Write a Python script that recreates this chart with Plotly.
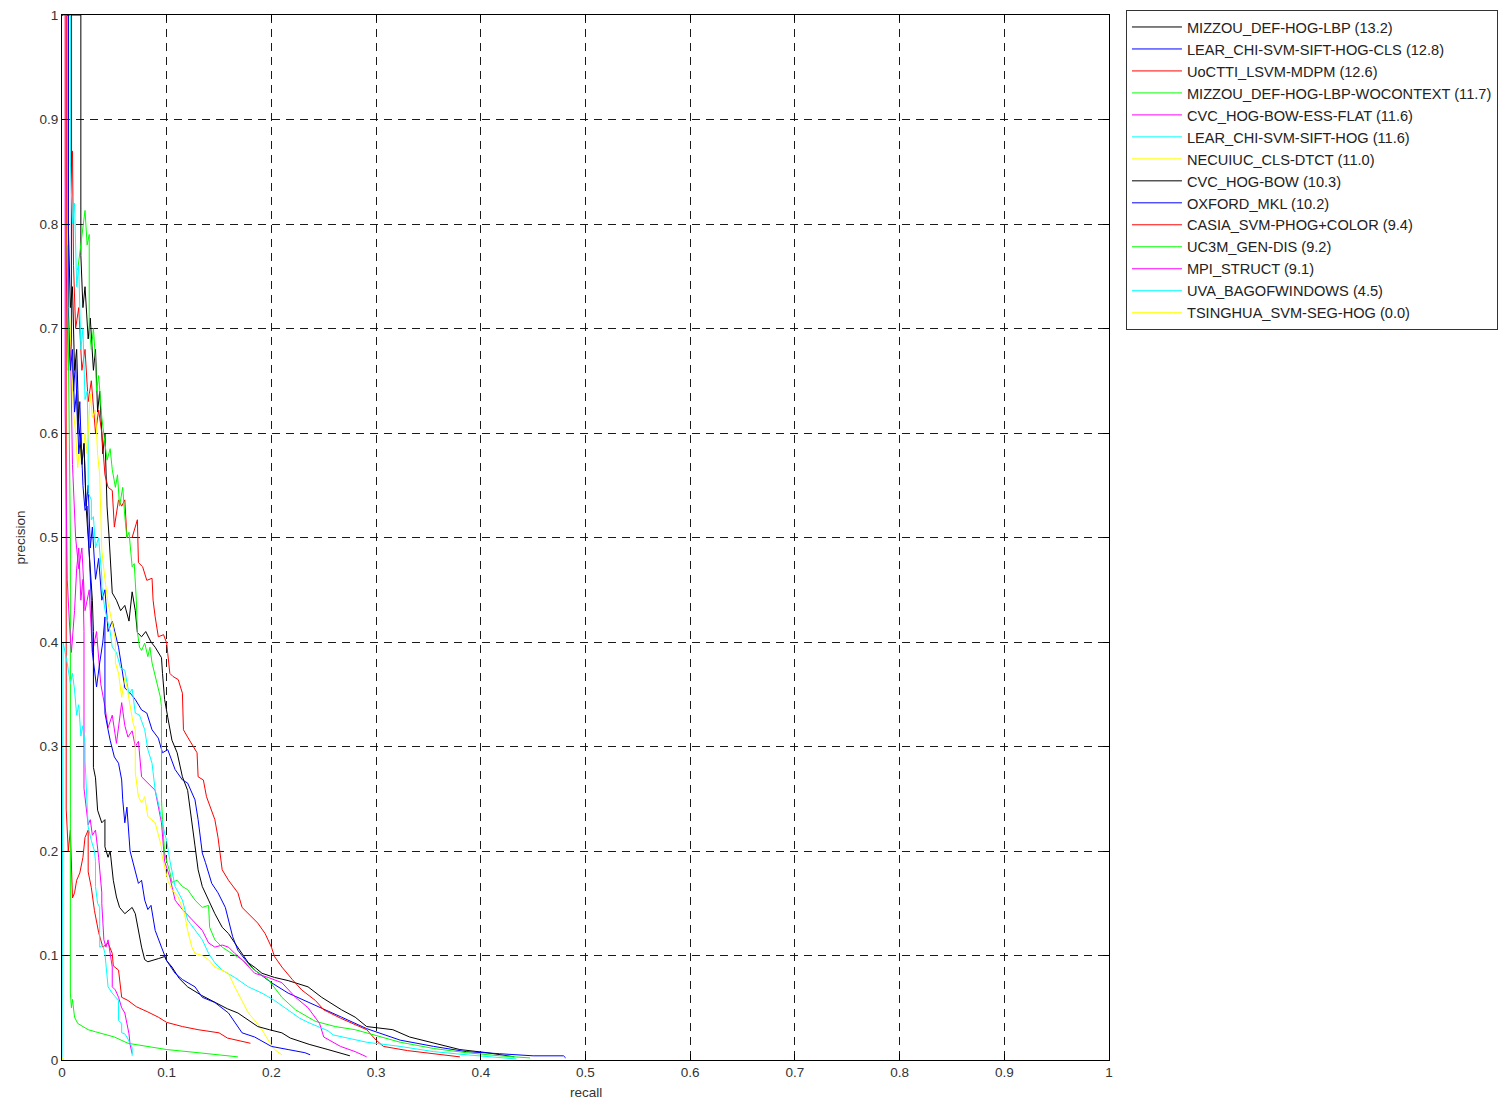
import plotly.graph_objects as go

# ---------------- data ----------------
methods = [
    "MIZZOU_DEF-HOG-LBP", "LEAR_CHI-SVM-SIFT-HOG-CLS", "UoCTTI_LSVM-MDPM",
    "MIZZOU_DEF-HOG-LBP-WOCONTEXT", "CVC_HOG-BOW-ESS-FLAT", "LEAR_CHI-SVM-SIFT-HOG",
    "NECUIUC_CLS-DTCT", "CVC_HOG-BOW", "OXFORD_MKL", "CASIA_SVM-PHOG+COLOR",
    "UC3M_GEN-DIS", "MPI_STRUCT", "UVA_BAGOFWINDOWS", "TSINGHUA_SVM-SEG-HOG",
]
ap_scores = [13.2, 12.8, 12.6, 11.7, 11.6, 11.6, 11.0, 10.3, 10.2, 9.4, 9.2, 9.1, 4.5, 0.0]
line_colors = ["#000000", "#0000ff", "#ff0000", "#00ff00", "#ff00ff", "#00ffff", "#ffff00",
               "#000000", "#0000ff", "#ff0000", "#00ff00", "#ff00ff", "#00ffff", "#ffff00"]

tick_values = [0, 0.1, 0.2, 0.3, 0.4, 0.5, 0.6, 0.7, 0.8, 0.9, 1]
tick_labels = ["0", "0.1", "0.2", "0.3", "0.4", "0.5", "0.6", "0.7", "0.8", "0.9", "1"]

# (recall, precision) points
pr_mizzou = [
    (0, 1), (0.018, 1), (0.018, 0.77), (0.020, 0.72), (0.022, 0.74), (0.025, 0.69), (0.027, 0.71),
    (0.030, 0.66), (0.032, 0.68), (0.034, 0.62), (0.036, 0.64), (0.039, 0.58), (0.041, 0.60),
    (0.043, 0.53), (0.045, 0.50), (0.048, 0.447), (0.052, 0.44), (0.056, 0.43), (0.060, 0.435),
    (0.064, 0.42), (0.067, 0.448), (0.070, 0.43), (0.072, 0.409), (0.076, 0.405), (0.080, 0.41),
    (0.085, 0.40), (0.089, 0.395), (0.092, 0.39), (0.095, 0.385), (0.096, 0.37), (0.098, 0.345),
    (0.101, 0.328), (0.105, 0.306), (0.110, 0.294), (0.115, 0.271), (0.120, 0.258), (0.124, 0.23),
    (0.127, 0.205), (0.130, 0.182), (0.134, 0.166), (0.140, 0.153), (0.146, 0.14), (0.153, 0.127),
    (0.159, 0.121), (0.165, 0.112), (0.172, 0.102), (0.178, 0.093), (0.185, 0.088), (0.191, 0.083),
    (0.203, 0.079), (0.216, 0.076), (0.235, 0.07), (0.248, 0.06), (0.267, 0.048), (0.280, 0.041),
    (0.291, 0.032), (0.316, 0.029), (0.332, 0.022), (0.355, 0.016), (0.380, 0.01), (0.406, 0.007),
    (0.432, 0.003),
]
pr_lear_cls = [
    (0, 1), (0.009, 1), (0.009, 0.68), (0.011, 0.64), (0.013, 0.67), (0.015, 0.60), (0.017, 0.63),
    (0.019, 0.57), (0.021, 0.59), (0.023, 0.53), (0.025, 0.55), (0.027, 0.49), (0.029, 0.51),
    (0.032, 0.46), (0.035, 0.48), (0.038, 0.44), (0.041, 0.45), (0.044, 0.41), (0.048, 0.42),
    (0.054, 0.395), (0.057, 0.376), (0.060, 0.356), (0.066, 0.35), (0.070, 0.345), (0.076, 0.335),
    (0.081, 0.332), (0.086, 0.316), (0.092, 0.308), (0.096, 0.294), (0.101, 0.297), (0.108, 0.278),
    (0.115, 0.268), (0.120, 0.265), (0.127, 0.249), (0.130, 0.23), (0.134, 0.198), (0.137, 0.189),
    (0.143, 0.169), (0.149, 0.16), (0.156, 0.146), (0.159, 0.134), (0.163, 0.118), (0.168, 0.105),
    (0.175, 0.096), (0.184, 0.086), (0.200, 0.074), (0.216, 0.064), (0.232, 0.057), (0.248, 0.05),
    (0.267, 0.041), (0.291, 0.03), (0.323, 0.019), (0.355, 0.013), (0.386, 0.008), (0.418, 0.006),
    (0.450, 0.004), (0.479, 0.004), (0.481, 0.002),
]
pr_uoctti = [
    (0.010, 0.87), (0.011, 0.76), (0.013, 0.70), (0.016, 0.72), (0.019, 0.66), (0.022, 0.68),
    (0.025, 0.63), (0.028, 0.65), (0.032, 0.60), (0.035, 0.622), (0.038, 0.60), (0.041, 0.56),
    (0.044, 0.548), (0.048, 0.545), (0.050, 0.51), (0.054, 0.536), (0.057, 0.53), (0.060, 0.536),
    (0.062, 0.50), (0.067, 0.50), (0.072, 0.517), (0.073, 0.476), (0.077, 0.472), (0.079, 0.466),
    (0.081, 0.459), (0.086, 0.461), (0.087, 0.44), (0.089, 0.424), (0.092, 0.405), (0.097, 0.407),
    (0.100, 0.399), (0.101, 0.389), (0.103, 0.37), (0.106, 0.367), (0.111, 0.364), (0.115, 0.351),
    (0.116, 0.316), (0.120, 0.309), (0.125, 0.30), (0.129, 0.294), (0.130, 0.271), (0.135, 0.268),
    (0.138, 0.252), (0.146, 0.23), (0.149, 0.213), (0.153, 0.182), (0.159, 0.172), (0.168, 0.16),
    (0.172, 0.146), (0.178, 0.14), (0.187, 0.131), (0.194, 0.121), (0.200, 0.108), (0.203, 0.099),
    (0.210, 0.089), (0.220, 0.077), (0.229, 0.067), (0.242, 0.057), (0.250, 0.048), (0.266, 0.04),
    (0.291, 0.029), (0.300, 0.019), (0.307, 0.013), (0.330, 0.009), (0.355, 0.006), (0.380, 0.003),
]
pr_mizzou_wocontext = [
    (0.015, 0.756), (0.018, 0.78), (0.022, 0.813), (0.024, 0.78), (0.026, 0.79), (0.026, 0.70),
    (0.028, 0.68), (0.030, 0.70), (0.032, 0.67), (0.033, 0.64), (0.035, 0.655), (0.038, 0.615),
    (0.041, 0.593), (0.043, 0.574), (0.046, 0.585), (0.048, 0.565), (0.051, 0.548), (0.053, 0.56),
    (0.055, 0.53), (0.058, 0.548), (0.060, 0.52), (0.062, 0.50), (0.064, 0.505), (0.067, 0.472),
    (0.069, 0.475), (0.071, 0.44), (0.072, 0.41), (0.074, 0.395), (0.076, 0.392), (0.079, 0.399),
    (0.082, 0.386), (0.084, 0.395), (0.086, 0.38), (0.089, 0.367), (0.092, 0.357), (0.094, 0.347),
    (0.095, 0.338), (0.095, 0.249), (0.096, 0.23), (0.098, 0.198), (0.100, 0.19), (0.103, 0.18),
    (0.105, 0.17), (0.110, 0.172), (0.115, 0.166), (0.120, 0.163), (0.127, 0.153), (0.134, 0.146),
    (0.140, 0.148), (0.141, 0.127), (0.146, 0.115), (0.153, 0.108), (0.162, 0.102), (0.172, 0.096),
    (0.184, 0.086), (0.197, 0.077), (0.210, 0.06), (0.223, 0.048), (0.242, 0.037), (0.261, 0.032),
    (0.280, 0.029), (0.291, 0.026), (0.323, 0.017), (0.355, 0.011), (0.386, 0.007), (0.418, 0.004),
    (0.447, 0.002),
]
pr_cvc_ess_flat = [
    (0.002, 1), (0.004, 1), (0.004, 0.76), (0.006, 0.66), (0.008, 0.69), (0.010, 0.57),
    (0.013, 0.50), (0.016, 0.47), (0.019, 0.49), (0.022, 0.43), (0.026, 0.45), (0.029, 0.39),
    (0.033, 0.41), (0.037, 0.36), (0.041, 0.338), (0.044, 0.318), (0.048, 0.33), (0.052, 0.303),
    (0.057, 0.342), (0.060, 0.32), (0.063, 0.309), (0.067, 0.315), (0.070, 0.30), (0.073, 0.305),
    (0.076, 0.271), (0.082, 0.265), (0.089, 0.258), (0.095, 0.227), (0.098, 0.19), (0.103, 0.175),
    (0.108, 0.153), (0.115, 0.144), (0.127, 0.131), (0.134, 0.124), (0.140, 0.112), (0.146, 0.108),
    (0.153, 0.11), (0.159, 0.108), (0.165, 0.102), (0.172, 0.096), (0.184, 0.083), (0.197, 0.079),
    (0.210, 0.074), (0.223, 0.06), (0.235, 0.05), (0.246, 0.035), (0.250, 0.022), (0.266, 0.013),
    (0.280, 0.008), (0.291, 0.003),
]
pr_lear_sift_hog = [
    (0.001, 1), (0.008, 1), (0.008, 0.86), (0.010, 0.80), (0.012, 0.82), (0.014, 0.74),
    (0.016, 0.76), (0.018, 0.68), (0.020, 0.70), (0.022, 0.632), (0.024, 0.64), (0.025, 0.60),
    (0.025, 0.543), (0.028, 0.536), (0.028, 0.517), (0.030, 0.52), (0.032, 0.49), (0.035, 0.50),
    (0.038, 0.462), (0.038, 0.453), (0.041, 0.431), (0.044, 0.42), (0.046, 0.41), (0.048, 0.395),
    (0.052, 0.39), (0.056, 0.375), (0.060, 0.373), (0.064, 0.35), (0.067, 0.355), (0.070, 0.332),
    (0.074, 0.33), (0.079, 0.316), (0.082, 0.297), (0.086, 0.284), (0.089, 0.258), (0.092, 0.246),
    (0.095, 0.23), (0.098, 0.217), (0.100, 0.21), (0.103, 0.191), (0.108, 0.166), (0.115, 0.153),
    (0.120, 0.134), (0.127, 0.124), (0.134, 0.115), (0.140, 0.102), (0.146, 0.093), (0.153, 0.086),
    (0.165, 0.079), (0.178, 0.07), (0.191, 0.064), (0.203, 0.057), (0.216, 0.048), (0.227, 0.04),
    (0.235, 0.036), (0.254, 0.028), (0.259, 0.024), (0.277, 0.02), (0.291, 0.017), (0.323, 0.013),
    (0.355, 0.008), (0.386, 0.005), (0.425, 0.002), (0.434, 0.001),
]
pr_necuiuc = [
    (0.001, 1), (0.003, 1), (0.003, 0.85), (0.005, 0.75), (0.007, 0.72), (0.009, 0.66),
    (0.011, 0.62), (0.013, 0.60), (0.015, 0.567), (0.017, 0.59), (0.019, 0.567), (0.022, 0.60),
    (0.024, 0.58), (0.027, 0.638), (0.029, 0.615), (0.032, 0.622), (0.034, 0.58), (0.036, 0.56),
    (0.038, 0.488), (0.041, 0.46), (0.044, 0.437), (0.048, 0.418), (0.051, 0.402), (0.051, 0.38),
    (0.054, 0.37), (0.057, 0.347), (0.060, 0.366), (0.062, 0.357), (0.065, 0.338), (0.068, 0.322),
    (0.070, 0.316), (0.070, 0.275), (0.073, 0.252), (0.076, 0.246), (0.079, 0.252), (0.082, 0.233),
    (0.089, 0.227), (0.095, 0.204), (0.095, 0.198), (0.101, 0.172), (0.105, 0.163), (0.111, 0.156),
    (0.117, 0.14), (0.120, 0.124), (0.124, 0.108), (0.127, 0.102), (0.134, 0.10), (0.140, 0.096),
    (0.146, 0.089), (0.159, 0.083), (0.165, 0.07), (0.172, 0.057), (0.178, 0.045), (0.184, 0.038),
    (0.191, 0.029), (0.197, 0.019), (0.203, 0.01), (0.210, 0.005),
]
pr_cvc_hog_bow = [
    (0.005, 1), (0.006, 1), (0.006, 0.80), (0.008, 0.72), (0.010, 0.74), (0.012, 0.66),
    (0.014, 0.68), (0.016, 0.61), (0.019, 0.57), (0.021, 0.59), (0.023, 0.53), (0.025, 0.50),
    (0.027, 0.46), (0.029, 0.44), (0.030, 0.41), (0.030, 0.28), (0.032, 0.27), (0.034, 0.239),
    (0.038, 0.227), (0.041, 0.23), (0.041, 0.204), (0.044, 0.194), (0.046, 0.20), (0.049, 0.172),
    (0.052, 0.156), (0.055, 0.146), (0.060, 0.14), (0.067, 0.146), (0.070, 0.14), (0.076, 0.108),
    (0.079, 0.096), (0.082, 0.094), (0.092, 0.097), (0.098, 0.099), (0.100, 0.095), (0.105, 0.089),
    (0.112, 0.078), (0.120, 0.07), (0.133, 0.062), (0.146, 0.055), (0.158, 0.049), (0.168, 0.045),
    (0.187, 0.032), (0.198, 0.029), (0.210, 0.026), (0.218, 0.021), (0.236, 0.015), (0.254, 0.01),
    (0.265, 0.007), (0.275, 0.004),
]
pr_oxford = [
    (0.006, 1), (0.006, 0.72), (0.008, 0.66), (0.010, 0.68), (0.012, 0.62), (0.014, 0.64),
    (0.016, 0.58), (0.018, 0.60), (0.020, 0.55), (0.022, 0.526), (0.024, 0.53), (0.026, 0.48),
    (0.028, 0.44), (0.029, 0.39), (0.031, 0.37), (0.033, 0.357), (0.036, 0.38), (0.039, 0.40),
    (0.041, 0.424), (0.041, 0.39), (0.041, 0.332), (0.044, 0.316), (0.046, 0.306), (0.050, 0.29),
    (0.054, 0.284), (0.057, 0.268), (0.058, 0.249), (0.060, 0.227), (0.062, 0.242), (0.065, 0.20),
    (0.070, 0.182), (0.073, 0.169), (0.076, 0.172), (0.079, 0.153), (0.082, 0.144), (0.085, 0.148),
    (0.089, 0.124), (0.092, 0.115), (0.095, 0.108), (0.100, 0.095), (0.108, 0.083), (0.115, 0.077),
    (0.127, 0.07), (0.134, 0.06), (0.146, 0.055), (0.159, 0.045), (0.172, 0.026), (0.184, 0.022),
    (0.200, 0.013), (0.216, 0.01), (0.232, 0.007), (0.237, 0.005),
]
pr_casia = [
    (0.003, 1), (0.004, 1), (0.004, 0.24), (0.006, 0.20), (0.008, 0.22), (0.010, 0.155),
    (0.012, 0.16), (0.014, 0.172), (0.017, 0.179), (0.020, 0.194), (0.022, 0.213), (0.025, 0.22),
    (0.025, 0.18), (0.028, 0.165), (0.031, 0.143), (0.035, 0.122), (0.039, 0.108), (0.044, 0.112),
    (0.048, 0.102), (0.049, 0.09), (0.054, 0.086), (0.057, 0.06), (0.063, 0.057), (0.071, 0.051),
    (0.082, 0.046), (0.092, 0.041), (0.100, 0.036), (0.115, 0.032), (0.130, 0.029), (0.150, 0.026),
    (0.158, 0.021), (0.170, 0.018), (0.180, 0.016),
]
pr_uc3m = [
    (0.005, 0.78), (0.008, 0.50), (0.008, 0.064), (0.009, 0.05), (0.010, 0.058), (0.012, 0.041),
    (0.015, 0.035), (0.020, 0.032), (0.025, 0.029), (0.032, 0.027), (0.040, 0.025), (0.050, 0.022),
    (0.063, 0.016), (0.075, 0.014), (0.089, 0.012), (0.100, 0.01), (0.130, 0.007), (0.150, 0.005),
    (0.168, 0.003),
]
pr_mpi = [
    (0.002, 1), (0.003, 1), (0.003, 0.62), (0.005, 0.46), (0.007, 0.42), (0.009, 0.39),
    (0.012, 0.43), (0.014, 0.47), (0.016, 0.49), (0.018, 0.44), (0.020, 0.46), (0.021, 0.41),
    (0.021, 0.26), (0.023, 0.24), (0.025, 0.225), (0.027, 0.23), (0.029, 0.215), (0.032, 0.22),
    (0.035, 0.194), (0.038, 0.16), (0.038, 0.15), (0.040, 0.115), (0.042, 0.108), (0.044, 0.115),
    (0.046, 0.10), (0.048, 0.089), (0.048, 0.07), (0.051, 0.067), (0.054, 0.06), (0.057, 0.05),
    (0.060, 0.045), (0.062, 0.035), (0.064, 0.025), (0.065, 0.015), (0.067, 0.006),
]
pr_uva = [
    (0, 0), (0.001, 0.40), (0.003, 0.39), (0.005, 0.38), (0.008, 0.36), (0.010, 0.37),
    (0.012, 0.354), (0.014, 0.33), (0.016, 0.34), (0.018, 0.31), (0.020, 0.32), (0.022, 0.303),
    (0.022, 0.287), (0.024, 0.25), (0.025, 0.223), (0.028, 0.21), (0.031, 0.20), (0.032, 0.19),
    (0.032, 0.166), (0.034, 0.15), (0.036, 0.146), (0.036, 0.108), (0.039, 0.11), (0.041, 0.102),
    (0.044, 0.07), (0.048, 0.064), (0.051, 0.06), (0.054, 0.057), (0.054, 0.038), (0.057, 0.035),
    (0.057, 0.026), (0.060, 0.025), (0.062, 0.022), (0.065, 0.016), (0.067, 0.012), (0.067, 0.004),
]
pr_tsinghua = [(0, 0)]

curves = [pr_mizzou, pr_lear_cls, pr_uoctti, pr_mizzou_wocontext, pr_cvc_ess_flat,
          pr_lear_sift_hog, pr_necuiuc, pr_cvc_hog_bow, pr_oxford, pr_casia,
          pr_uc3m, pr_mpi, pr_uva, pr_tsinghua]

# ---------------- figure ----------------
FONT = "Liberation Sans, Arial, Helvetica, sans-serif"
fig = go.Figure()
for name, ap, col, pts in zip(methods, ap_scores, line_colors, curves):
    xs = [p[0] for p in pts]
    ys = [p[1] for p in pts]
    fig.add_trace(go.Scatter(x=xs, y=ys, mode="lines", name=f"{name} ({ap:.1f})",
                             line=dict(color=col, width=1), hoverinfo="x+y+name"))
    if len(pts) == 1:
        fig.add_trace(go.Scatter(x=xs, y=ys, mode="markers", showlegend=False,
                                 marker=dict(color=col, size=4)))

axis_common = dict(
    range=[0, 1], tickmode="array", tickvals=tick_values, ticktext=tick_labels,
    showline=True, linecolor="#000000", linewidth=1, mirror="ticks",
    ticks="inside", ticklen=6, tickcolor="#000000",
    showgrid=True, gridcolor="#1a1a1a", gridwidth=1, griddash="8px,6px",
    zeroline=False, tickfont=dict(family=FONT, size=13.5, color="#333333"),
)
fig.update_xaxes(**axis_common)
fig.update_yaxes(**axis_common)

fig.update_layout(
    width=1507, height=1101,
    margin=dict(l=62, r=398, t=15, b=41, autoexpand=False),
    paper_bgcolor="#ffffff", plot_bgcolor="#ffffff",
    showlegend=True,
    legend=dict(x=1.0162, y=1.0048, xanchor="left", yanchor="top",
                bgcolor="#ffffff", bordercolor="#333333", borderwidth=1,
                font=dict(family=FONT, size=14.6, color="#222222"),
                tracegroupgap=0, itemwidth=50),
    annotations=[
        dict(text="recall", xref="paper", yref="paper", x=0.5, y=0, yshift=-32,
             showarrow=False, xanchor="center", yanchor="middle",
             font=dict(family=FONT, size=13.5, color="#333333")),
        dict(text="precision", xref="paper", yref="paper", x=0, y=0.5, xshift=-42,
             showarrow=False, xanchor="center", yanchor="middle", textangle=-90,
             font=dict(family=FONT, size=13.5, color="#333333")),
    ],
)

fig.write_html(
    "out.html",
    config={"displayModeBar": False},
    post_script="document.body.style.margin='0px';document.body.style.padding='0px';"
                "document.body.style.overflow='hidden';",
)
